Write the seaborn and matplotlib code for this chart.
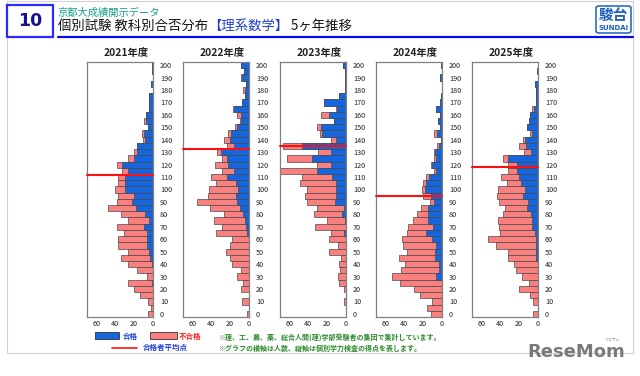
import matplotlib
matplotlib.use("Agg")
import matplotlib.pyplot as plt
import seaborn as sns
import pandas as pd
from matplotlib.patches import Rectangle, FancyBboxPatch
from matplotlib.lines import Line2D

# 得点の区分 (5点刻み、上から順)
scores = list(range(200, -1, -5))
years = ['2021年度', '2022年度', '2023年度', '2024年度', '2025年度']

# 合格者数 / 受験者数(合格+不合格)  200点 -> 0点
pass_2021 = [1, 1, 0, 2, 0, 4, 4, 4, 7, 7, 5, 10, 8, 17, 17, 20, 33, 27, 30, 30,
             30, 20, 22, 18, 8, 4, 10, 6, 6, 6, 4, 3, 1, 0, 0, 1, 0, 0, 0, 0, 0]
total_2021 = [1, 1, 0, 2, 0, 4, 4, 4, 7, 10, 5, 12, 11, 17, 20, 27, 38, 33, 37, 37,
              40, 37, 38, 48, 34, 26, 38, 31, 37, 37, 26, 34, 26, 17, 6, 27, 20, 14, 5, 2, 5]

pass_2022 = [8, 5, 7, 3, 4, 4, 7, 16, 9, 9, 13, 19, 20, 16, 30, 23, 22, 16, 23, 14,
             12, 14, 13, 10, 6, 4, 3, 2, 0, 0, 0, 0, 0, 0, 0, 0, 0, 0, 0, 0, 0]
total_2022 = [8, 5, 9, 3, 6, 4, 7, 17, 13, 10, 15, 22, 26, 23, 34, 29, 36, 29, 40, 35,
              42, 44, 55, 41, 26, 37, 29, 35, 18, 20, 24, 20, 18, 8, 13, 6, 9, 0, 7, 0, 2]

pass_2023 = [3, 1, 1, 1, 1, 7, 23, 10, 18, 13, 27, 25, 11, 47, 16, 36, 16, 31, 15, 11,
             11, 11, 12, 2, 4, 1, 0, 2, 0, 0, 0, 0, 0, 0, 0, 0, 0, 0, 0, 0, 0]
total_2023 = [3, 1, 1, 1, 1, 7, 23, 11, 27, 13, 31, 28, 16, 67, 30, 63, 31, 70, 47, 49,
              41, 43, 41, 31, 34, 20, 33, 16, 18, 9, 18, 5, 7, 6, 9, 7, 2, 0, 2, 0, 0]

pass_2024 = [1, 0, 2, 0, 0, 1, 2, 6, 2, 4, 2, 5, 1, 3, 7, 6, 11, 6, 14, 17,
             18, 12, 9, 15, 15, 15, 10, 17, 11, 6, 7, 7, 3, 3, 6, 0, 0, 0, 0, 0, 0]
total_2024 = [1, 0, 2, 0, 0, 1, 2, 6, 2, 4, 2, 9, 1, 5, 9, 8, 12, 8, 17, 20,
              21, 20, 13, 22, 27, 31, 36, 37, 42, 41, 37, 46, 39, 44, 53, 45, 30, 23, 11, 16, 12]

pass_2025 = [0, 1, 0, 3, 2, 2, 2, 4, 8, 10, 12, 6, 14, 13, 7, 32, 22, 22, 20, 18,
             14, 16, 11, 12, 7, 6, 6, 3, 2, 2, 2, 2, 0, 0, 0, 0, 0, 0, 0, 0, 0]
total_2025 = [0, 1, 0, 3, 2, 2, 2, 6, 9, 10, 12, 8, 16, 20, 15, 37, 32, 32, 39, 33,
              42, 43, 41, 35, 37, 42, 41, 40, 53, 45, 32, 32, 25, 23, 17, 10, 20, 9, 5, 0, 5]

# 合格者平均点
mean_pass = [112, 132.5, 135, 95, 118]

passes = [pass_2021, pass_2022, pass_2023, pass_2024, pass_2025]
totals = [total_2021, total_2022, total_2023, total_2024, total_2025]

BLUE = '#1565dc'
PINK = '#fa8080'
EDGE = '#4a4a4a'

sns.set_style('white')
plt.rcParams['font.family'] = ['Noto Sans CJK JP', 'DejaVu Sans']

W, H = 640, 376
fig = plt.figure(figsize=(W / 100, H / 100), dpi=100)
fig.patch.set_facecolor('white')


def fx(x):
    return x / W


def fy(y):
    return 1 - y / H


# 外枠
fig.patches.append(Rectangle((fx(7), fy(353)), fx(633 - 7), (353 - 1) / H, transform=fig.transFigure,
                             fill=False, edgecolor='#d0d0d0', linewidth=0.8, zorder=0))

# ヘッダー
fig.patches.append(Rectangle((fx(7), fy(37)), fx(46), 32 / H, transform=fig.transFigure,
                             facecolor='white', edgecolor='#2b2bff', linewidth=1.6, zorder=2))
fig.text(fx(30), fy(21.5), '10', color='#14148a', fontsize=12.5, fontweight='bold',
         family='DejaVu Sans', ha='center', va='center')
fig.text(fx(58), fy(13), '京都大成績開示データ', color='#1a9e8c', fontsize=7.4, va='center')

renderer = fig.canvas.get_renderer()
x = fx(58)
for s, c in [('個別試験 教科別合否分布', '#111111'), ('【理系数学】', '#1f3fd6'), (' 5ヶ年推移', '#111111')]:
    t = fig.text(x, fy(26), s, color=c, fontsize=9.6, va='center', ha='left')
    x += t.get_window_extent(renderer=renderer).width / fig.bbox.width

fig.lines.append(Line2D([fx(58), fx(633)], [fy(37), fy(37)], transform=fig.transFigure,
                        color='#0a0aee', linewidth=1.6))

# ロゴ
fig.patches.append(FancyBboxPatch((fx(596), fy(33)), fx(35), 27 / H, transform=fig.transFigure,
                                  boxstyle='round,pad=0,rounding_size=0.005',
                                  facecolor='white', edgecolor='#2a6cc0', linewidth=1.2))
fig.text(fx(613.5), fy(15), '駿台', color='#1f5fbf', fontsize=10.5, fontweight='bold',
         ha='center', va='center')
fig.text(fx(613.5), fy(28), 'SUNDAI', color='#1f5fbf', fontsize=5, fontweight='bold',
         family='DejaVu Sans', ha='center', va='center')

# 各年度のグラフ
lefts = [87, 183, 280, 376, 472]
for i in range(5):
    ax = fig.add_axes([fx(lefts[i]), fy(317), fx(66), (317 - 62) / H])
    df = pd.DataFrame({'score': scores, 'pass': passes[i], 'total': totals[i]})

    sns.barplot(data=df, x='total', y='score', orient='h', native_scale=True, width=1,
                color=PINK, saturation=1, edgecolor=EDGE, linewidth=0.5, errorbar=None, ax=ax)
    sns.barplot(data=df, x='pass', y='score', orient='h', native_scale=True, width=1,
                color=BLUE, saturation=1, edgecolor=EDGE, linewidth=0.5, errorbar=None, ax=ax)

    ax.axhline(mean_pass[i], color='#ff1010', linewidth=1.5, zorder=5, clip_on=False)

    ax.set_xlim(70, 0)
    ax.set_ylim(-2.5, 202.5)
    ax.set_xlabel('')
    ax.set_ylabel('')
    ax.set_xticks([60, 40, 20, 0])
    ax.set_yticks(range(0, 201, 10))
    ax.yaxis.tick_right()
    ax.tick_params(axis='y', length=0, pad=5, labelsize=5.2, labelcolor='#222222')
    ax.tick_params(axis='x', length=0, pad=2, labelsize=5.2, labelcolor='#222222')
    for sp in ax.spines.values():
        sp.set_color('#808080')
        sp.set_linewidth(0.9)

    fig.text(fx(lefts[i] + 39), fy(53), years[i], fontsize=7.4, fontweight='bold',
             color='#222222', ha='center', va='center')

# 凡例
fig.patches.append(Rectangle((fx(95), fy(339)), fx(24), 7 / H, transform=fig.transFigure,
                             facecolor=BLUE, edgecolor='#333333', linewidth=0.6))
fig.text(fx(123), fy(336), '合格', color='#1f3fd6', fontsize=5.4, fontweight='bold', va='center')
fig.patches.append(Rectangle((fx(150), fy(339)), fx(27), 7 / H, transform=fig.transFigure,
                             facecolor=PINK, edgecolor='#333333', linewidth=0.6))
fig.text(fx(179), fy(336), '不合格', color='#ff2020', fontsize=5.4, fontweight='bold', va='center')
fig.lines.append(Line2D([fx(112), fx(137)], [fy(347.5), fy(347.5)], transform=fig.transFigure,
                        color='#ff1010', linewidth=1.2))
fig.text(fx(143), fy(347.5), '合格者平均点', color='#1f3fd6', fontsize=5.4, fontweight='bold', va='center')

fig.text(fx(218), fy(337), '※理、工、農、薬、総合人間(理)学部受験者の集団で集計しています。',
         color='#2e8b2e', fontsize=5, fontweight='bold', va='center')
fig.text(fx(218), fy(348), '※グラフの横軸は人数、縦軸は個別学力検査の得点を表します。',
         color='#2e8b2e', fontsize=5, fontweight='bold', va='center')

# ウォーターマーク
fig.text(fx(576), fy(352), 'ReseMom', color='#7a7a7a', fontsize=13, fontweight='bold',
         family='DejaVu Sans', ha='center', va='center')
fig.text(fx(612), fy(340), 'リセマム', color='#8a8a8a', fontsize=2.8, ha='center', va='center')

fig.savefig('out.png', dpi=100, facecolor='white')
